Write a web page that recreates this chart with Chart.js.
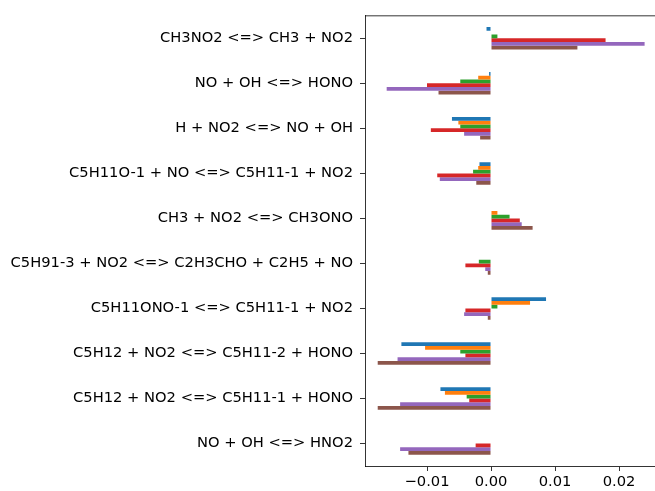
<!DOCTYPE html>
<html>
<head>
<meta charset="utf-8">
<script src="https://cdn.jsdelivr.net/npm/chart.js@4/dist/chart.umd.min.js"></script>
<style>
html,body{margin:0;padding:0;background:#fff;overflow:hidden;}
#wrap{width:655px;height:491px;position:relative;}
</style>
</head>
<body>
<div id="wrap"><canvas id="c" width="655" height="491"></canvas></div>
<script>
const categories = [
  "CH3NO2 <=> CH3 + NO2",
  "NO + OH <=> HONO",
  "H + NO2 <=> NO + OH",
  "C5H11O-1 + NO <=> C5H11-1 + NO2",
  "CH3 + NO2 <=> CH3ONO",
  "C5H91-3 + NO2 <=> C2H3CHO + C2H5 + NO",
  "C5H11ONO-1 <=> C5H11-1 + NO2",
  "C5H12 + NO2 <=> C5H11-2 + HONO",
  "C5H12 + NO2 <=> C5H11-1 + HONO",
  "NO + OH <=> HNO2"
];
const series1 = [-0.0007, -0.0003, -0.0061, -0.0018, 0.0, 0.0, 0.0086, -0.0140, -0.0079, 0.0];
const series2 = [0.0, -0.0020, -0.0051, -0.0020, 0.0010, 0.0, 0.0061, -0.0103, -0.0072, 0.0];
const series3 = [0.0010, -0.0048, -0.0048, -0.0028, 0.0029, -0.0019, 0.0010, -0.0048, -0.0038, 0.0];
const series4 = [0.0179, -0.0100, -0.0094, -0.0084, 0.0045, -0.0040, -0.0040, -0.0040, -0.0034, -0.0024];
const series5 = [0.0240, -0.0163, -0.0042, -0.0080, 0.0048, -0.0009, -0.0042, -0.0146, -0.0142, -0.0142];
const series6 = [0.0135, -0.0082, -0.0017, -0.0023, 0.0065, -0.0005, -0.0005, -0.0177, -0.0177, -0.0129];
const xTicks = [-0.01, 0.0, 0.01, 0.02];
const seriesColors = ["#1f77b4", "#ff7f0e", "#2ca02c", "#d62728", "#9467bd", "#8c564b"];

const allSeries = [series1, series2, series3, series4, series5, series6];
const datasets = allSeries.map((s, i) => ({
  label: "Series " + (i + 1),
  data: s,
  backgroundColor: seriesColors[i],
  borderWidth: 0,
  categoryPercentage: 0.5,
  barPercentage: 1.0
}));

const topSpine = {
  id: 'topSpine',
  afterDraw(chart) {
    const {ctx, chartArea} = chart;
    ctx.save();
    ctx.strokeStyle = '#000';
    ctx.lineWidth = 0.8;
    ctx.beginPath();
    ctx.moveTo(chartArea.left, chartArea.top);
    ctx.lineTo(chartArea.right, chartArea.top);
    ctx.stroke();
    ctx.restore();
  }
};

const font = {family: "'DejaVu Sans'", size: 14.7};

new Chart(document.getElementById('c'), {
  type: 'bar',
  data: {labels: categories, datasets},
  options: {
    indexAxis: 'y',
    responsive: false,
    animation: false,
    devicePixelRatio: 1,
    layout: {padding: {top: 14, right: 0, bottom: 0, left: 0}},
    plugins: {legend: {display: false}, tooltip: {enabled: false}},
    scales: {
      x: {
        type: 'linear',
        min: -0.0196875,
        max: 0.025625,
        afterBuildTicks(scale) { scale.ticks = xTicks.map(v => ({value: v})); },
        afterFit(scale) { scale.height = 25; },
        grid: {display: true, drawOnChartArea: false, drawTicks: true, tickLength: 5, tickWidth: 0.8, tickColor: '#000'},
        border: {display: true, color: '#000', width: 0.8},
        ticks: {
          color: '#000', font, padding: 2, maxRotation: 0,
          callback(v) { const s = Math.abs(v).toFixed(2); return v < -1e-9 ? '\u2212' + s : s; }
        }
      },
      y: {
        type: 'category',
        offset: true,
        afterFit(scale) { scale.width = 365; },
        grid: {display: true, drawOnChartArea: false, drawTicks: true, tickLength: 5, tickWidth: 0.8, tickColor: '#000', offset: false},
        border: {display: true, color: '#000', width: 0.8},
        ticks: {color: '#000', font, padding: 7, autoSkip: false}
      }
    }
  },
  plugins: [topSpine]
});
</script>
</body>
</html>
